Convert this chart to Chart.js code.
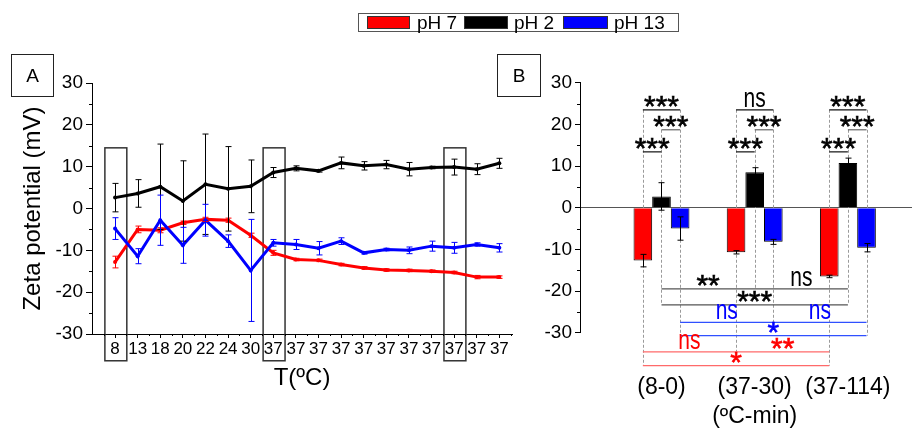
<!DOCTYPE html>
<html>
<head>
<meta charset="utf-8">
<script src="https://cdn.jsdelivr.net/npm/chart.js@4.4.1/dist/chart.umd.min.js"></script>
<style>
  html, body { margin: 0; padding: 0; background: #fff; }
  body { width: 912px; height: 428px; position: relative; overflow: hidden;
         font-family: "Liberation Sans", Arial, sans-serif; color: #000; }
  #cA { position: absolute; left: 0; top: 0; }
  #cB { position: absolute; left: 530px; top: 0; }
  .panel { position: absolute; top: 54px; height: 41px; border: 1px solid #222;
           font-size: 19px; line-height: 41px; text-align: center; }
  #legend { position: absolute; left: 358px; top: 13px; width: 319px; height: 17px;
            border: 1px solid #555; }
  #legend .sw { position: absolute; top: 2px; height: 13px; box-sizing: border-box;
                border: 1px solid #333; }
  #legend .lt { position: absolute; top: -1px; font-size: 19px; line-height: 19px; white-space: nowrap; }
</style>
</head>
<body>
<canvas id="cA" width="530" height="428"></canvas>
<canvas id="cB" width="382" height="428"></canvas>
<div class="panel" style="left:11px;width:41px">A</div>
<div class="panel" style="left:497px;width:42px">B</div>
<div id="legend">
  <span class="sw" style="left:8px;width:43px;background:#ff0000"></span><span class="lt" style="left:58px">pH 7</span>
  <span class="sw" style="left:105px;width:44px;background:#000000"></span><span class="lt" style="left:155px">pH 2</span>
  <span class="sw" style="left:204px;width:45px;background:#0000ff"></span><span class="lt" style="left:255px">pH 13</span>
</div>
<script>
// panel A: zeta potential along the temperature programme
const temps = ['8', '13', '18', '20', '22', '24', '30', '37', '37', '37', '37', '37', '37', '37', '37', '37', '37', '37'];
const ph7 = [-12.8, -5.0, -5.2, -3.4, -2.6, -2.8, -6.4, -10.6, -12.2, -12.4, -13.4, -14.2, -14.7, -14.8, -15.0, -15.3, -16.4, -16.4];
const ph7Err = [1.4, 0.8, 0.6, 0.4, 0.5, 0.5, 0.5, 0.6, 0.3, 0.3, 0.3, 0.3, 0.3, 0.3, 0.3, 0.3, 0.4, 0.3];
const ph2 = [2.6, 3.6, 5.2, 1.8, 5.8, 4.7, 5.3, 8.6, 9.6, 9.0, 10.9, 10.2, 10.5, 9.4, 9.8, 9.9, 9.4, 10.8];
const ph2Err = [3.4, 3.3, 10.2, 9.6, 12.0, 10.1, 6.3, 1.2, 0.6, 0.3, 1.4, 1.0, 1.0, 1.6, 0.3, 1.9, 1.3, 1.2];
const ph13 = [-4.8, -11.4, -2.8, -8.8, -2.8, -7.8, -14.8, -8.2, -8.6, -9.5, -7.8, -10.6, -9.8, -10.0, -9.0, -9.4, -8.6, -9.4];
const ph13Err = [2.6, 1.8, 6.0, 4.3, 3.8, 1.5, 12.2, 0.8, 1.2, 1.6, 0.8, 0.3, 0.3, 0.8, 1.2, 1.3, 0.4, 1.0];
const boxedIdx = [0, 7, 15];

// panel B: the three boxed conditions
const groups = ['(8-0)', ['(37-30)', '(ºC-min)'], '(37-114)'];
const barPh7 = [-12.7, -10.7, -16.5];
const barPh7Err = [1.5, 0.4, 0.3];
const barPh2 = [2.7, 8.5, 10.7];
const barPh2Err = [3.3, 1.1, 1.2];
const barPh13 = [-5.0, -8.2, -9.6];
const barPh13Err = [2.8, 0.6, 1.0];

// significance: [group, bar a, bar b, level, label]  (bar 0 = pH 7, 1 = pH 2, 2 = pH 13)
const topSig = [
  [0, 0, 2, 23.5, '***'], [0, 1, 2, 18.7, '***'], [0, 0, 1, 13.4, '***'],
  [1, 0, 2, 23.5, 'ns'],  [1, 1, 2, 18.7, '***'], [1, 0, 1, 13.4, '***'],
  [2, 0, 2, 23.5, '***'], [2, 1, 2, 18.7, '***'], [2, 0, 1, 13.4, '***']
];
// between groups: [bar, near level, far level, 1 vs 2, 2 vs 3, 1 vs 3]
const bottomSig = [
  [1, -19.5, -23.3, '**', 'ns', '***'],
  [2, -27.5, -30.7, 'ns', 'ns', '*'],
  [0, -34.6, -37.9, 'ns', '**', '*']
];

const yMinor = [25, 15, 5, -5, -15, -25];
const colors = ['#ff0000', '#000000', '#0000ff'];
const sigLine = ['#ff6a6a', '#555555', '#3050ff'];
const FONT = '"Liberation Sans", Arial, sans-serif';

Chart.defaults.font.family = FONT;
Chart.defaults.color = '#000';

const errorBars = {
  id: 'errorBars',
  afterDatasetsDraw(chart) {
    const { ctx } = chart;
    const y = chart.scales.y;
    chart.data.datasets.forEach((ds, i) => {
      if (!ds.errors) return;
      const meta = chart.getDatasetMeta(i);
      ctx.save();
      ctx.strokeStyle = ds.errorColor;
      ctx.lineWidth = 1;
      ctx.beginPath();
      meta.data.forEach((el, j) => {
        const d = ds.data[j];
        const v = typeof d === 'object' ? d.y : d;
        const top = y.getPixelForValue(v + ds.errors[j]);
        const bot = y.getPixelForValue(v - ds.errors[j]);
        const px = Math.round(el.x) + 0.5;
        ctx.moveTo(px, top); ctx.lineTo(px, bot);
        ctx.moveTo(px - 3, top); ctx.lineTo(px + 3, top);
        ctx.moveTo(px - 3, bot); ctx.lineTo(px + 3, bot);
      });
      ctx.stroke();
      ctx.restore();
    });
  }
};

const minorTicks = {
  id: 'minorTicks',
  afterDraw(chart, args, opts) {
    const { ctx, chartArea } = chart;
    const { x, y } = chart.scales;
    ctx.save();
    ctx.strokeStyle = '#000';
    ctx.lineWidth = 1;
    ctx.beginPath();
    yMinor.forEach(v => {
      const py = Math.round(y.getPixelForValue(v)) + 0.5;
      ctx.moveTo(chartArea.left - 3, py); ctx.lineTo(chartArea.left, py);
    });
    if (opts.xMinor) {
      for (let i = -0.5; i < temps.length; i++) {
        const px = Math.round(x.getPixelForValue(i)) + 0.5;
        ctx.moveTo(px, chartArea.bottom); ctx.lineTo(px, chartArea.bottom + 2);
      }
    }
    ctx.stroke();
    ctx.restore();
  }
};

const boxes = {
  id: 'boxes',
  beforeDatasetsDraw(chart) {
    const { ctx } = chart;
    const { x, y } = chart.scales;
    ctx.save();
    ctx.strokeStyle = '#333';
    ctx.lineWidth = 1.5;
    boxedIdx.forEach(i => {
      const l = x.getPixelForValue(i - 0.45), r = x.getPixelForValue(i + 0.52);
      const t = y.getPixelForValue(14.5), b = y.getPixelForValue(-36.4);
      ctx.strokeRect(l, t, r - l, b - t);
    });
    ctx.restore();
  }
};

function pts(arr) { return arr.map((v, i) => ({ x: i, y: v })); }

new Chart(document.getElementById('cA'), {
  type: 'line',
  data: {
    datasets: [
      { label: 'pH 7', data: pts(ph7), errors: ph7Err, errorColor: '#ff0000', borderColor: '#ff0000',
        backgroundColor: '#ff0000', order: 1 },
      { label: 'pH 2', data: pts(ph2), errors: ph2Err, errorColor: '#000000', borderColor: '#000000',
        backgroundColor: '#000000', order: 2 },
      { label: 'pH 13', data: pts(ph13), errors: ph13Err, errorColor: '#0000ff', borderColor: '#0000ff',
        backgroundColor: '#0000ff', order: 0 }
    ]
  },
  options: {
    responsive: false,
    animation: false,
    layout: { padding: { left: 0, top: 83, right: 18, bottom: 0 } },
    elements: {
      line: { borderWidth: 3, tension: 0 },
      point: { radius: 2, hoverRadius: 2, borderWidth: 0 }
    },
    plugins: { legend: { display: false }, tooltip: { enabled: false }, minorTicks: { xMinor: true } },
    scales: {
      x: {
        type: 'linear', min: -1.02, max: 17.56, offset: false,
        afterFit(s) { s.height = 94; },
        afterBuildTicks(s) { s.ticks = temps.map((t, i) => ({ value: i })); },
        border: { color: '#000', width: 1 },
        grid: { drawOnChartArea: false, tickLength: 4, tickColor: '#000' },
        ticks: { autoSkip: false, maxRotation: 0, padding: 1.5, font: { size: 17 },
                 callback: v => temps[v] },
        title: { display: true, text: 'T(ºC)', font: { size: 24 }, padding: { top: 0, bottom: 35.6 } }
      },
      y: {
        min: -30, max: 30,
        afterFit(s) { s.width = 92; },
        border: { color: '#000', width: 1 },
        grid: { drawOnChartArea: false, tickLength: 6, tickColor: '#000' },
        ticks: { stepSize: 10, padding: 3, font: { size: 19 } },
        title: { display: true, text: 'Zeta potential (mV)', font: { size: 24 }, padding: { top: 18.6, bottom: 0 } }
      }
    }
  },
  plugins: [boxes, errorBars, minorTicks]
});

function sigText(ctx, txt, x, yLine, color) {
  const stars = txt.indexOf('*') >= 0;
  ctx.save();
  ctx.font = (stars ? '30px ' : '28px ') + FONT;
  ctx.fillStyle = color;
  ctx.strokeStyle = color;
  ctx.lineWidth = 0.6;
  ctx.textAlign = 'center';
  ctx.textBaseline = 'alphabetic';
  const m = ctx.measureText(txt);
  ctx.translate(x, yLine - 3 - m.actualBoundingBoxDescent);
  ctx.scale(stars ? 1 : 0.75, 1);
  ctx.fillText(txt, 0, 0);
  if (stars) ctx.strokeText(txt, 0, 0);
  ctx.restore();
}

function hLine(ctx, x1, x2, py, color) {
  ctx.save();
  ctx.strokeStyle = color;
  ctx.lineWidth = 1.2;
  ctx.beginPath();
  ctx.moveTo(x1, py); ctx.lineTo(x2, py);
  ctx.stroke();
  ctx.restore();
}

const significance = {
  id: 'significance',
  beforeDatasetsDraw(chart) {
    const { ctx } = chart;
    const y = chart.scales.y;
    ctx.save();
    ctx.strokeStyle = '#9a9a9a';
    ctx.lineWidth = 1;
    ctx.setLineDash([3, 2]);
    ctx.beginPath();
    for (let k = 0; k < 3; k++) {
      const meta = chart.getDatasetMeta(k);
      const row = bottomSig.find(r => r[0] === k);
      for (let g = 0; g < 3; g++) {
        const px = Math.round(meta.data[g].x) + 0.5;
        const top = Math.max(...topSig.filter(s => s[0] === g && (s[1] === k || s[2] === k)).map(s => s[3]));
        const lo = g === 1 ? row[1] : row[2];
        ctx.moveTo(px, y.getPixelForValue(top));
        ctx.lineTo(px, y.getPixelForValue(lo));
      }
    }
    ctx.stroke();
    ctx.restore();
  },
  afterDatasetsDraw(chart) {
    const { ctx } = chart;
    const y = chart.scales.y;
    const bx = (k, g) => chart.getDatasetMeta(k).data[g].x;
    topSig.forEach(([g, a, b, lvl, txt]) => {
      const x1 = bx(a, g), x2 = bx(b, g), py = y.getPixelForValue(lvl);
      hLine(ctx, x1, x2, py, a === 1 ? '#666' : '#111');
      sigText(ctx, txt, (x1 + x2) / 2, py, '#000');
    });
    bottomSig.forEach(([k, near, far, t12, t23, t13]) => {
      const x1 = bx(k, 0), x2 = bx(k, 1), x3 = bx(k, 2);
      const pn = y.getPixelForValue(near), pf = y.getPixelForValue(far);
      hLine(ctx, x1, x3, pn, sigLine[k]);
      hLine(ctx, x1, x3, pf, sigLine[k]);
      sigText(ctx, t12, (x1 + x2) / 2, pn, colors[k]);
      sigText(ctx, t23, (x2 + x3) / 2, pn, colors[k]);
      sigText(ctx, t13, x2, pf, colors[k]);
    });
  }
};

function bars(arr) { return arr.map((v, i) => ({ x: i + 1, y: v })); }

new Chart(document.getElementById('cB'), {
  type: 'bar',
  data: {
    datasets: [
      { label: 'pH 7', data: bars(barPh7), errors: barPh7Err, errorColor: '#000', backgroundColor: '#ff0000' },
      { label: 'pH 2', data: bars(barPh2), errors: barPh2Err, errorColor: '#000', backgroundColor: '#000000' },
      { label: 'pH 13', data: bars(barPh13), errors: barPh13Err, errorColor: '#000', backgroundColor: '#0000ff' }
    ]
  },
  options: {
    responsive: false,
    animation: false,
    layout: { padding: { left: 0, top: 82.7, right: 0, bottom: 0 } },
    datasets: { bar: { categoryPercentage: 0.6, barPercentage: 1.0, borderColor: '#000', borderWidth: 1 } },
    plugins: { legend: { display: false }, tooltip: { enabled: false }, minorTicks: { xMinor: false } },
    scales: {
      x: {
        type: 'linear', min: 0.1255, max: 3.688, offset: false,
        afterFit(s) { s.height = 95.3; s.paddingLeft = 0; s.paddingRight = 0; },
        afterBuildTicks(s) { s.ticks = groups.map((g, i) => ({ value: i + 1 })); },
        border: { display: false },
        grid: { display: false, drawTicks: false, offset: false },
        ticks: { autoSkip: false, maxRotation: 0, padding: 41, font: { size: 23, lineHeight: 1.25 },
                 callback: v => groups[v - 1] }
      },
      y: {
        min: -30, max: 30,
        afterFit(s) { s.width = 50; },
        border: { color: '#000', width: 1 },
        grid: { drawOnChartArea: true, tickLength: 5, tickColor: '#000',
                color: c => (c.tick && c.tick.value === 0 ? '#555' : 'rgba(0,0,0,0)') },
        ticks: { stepSize: 10, padding: 3, font: { size: 19 } }
      }
    }
  },
  plugins: [significance, errorBars, minorTicks]
});
</script>
</body>
</html>
